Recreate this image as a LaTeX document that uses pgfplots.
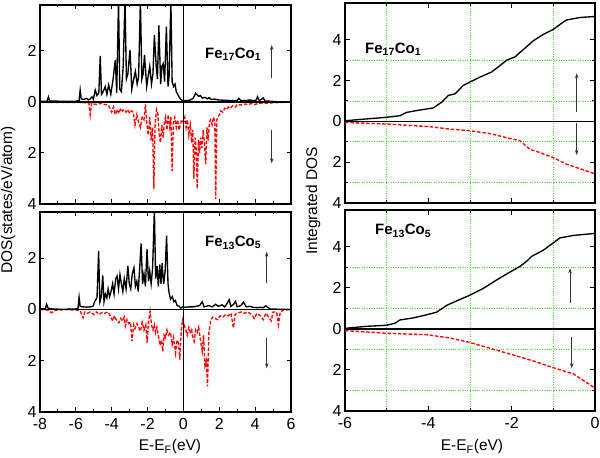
\documentclass[border=0pt]{standalone}
\usepackage{fontspec}
\setmainfont{Liberation Sans}
\usepackage{pgfplots}
\pgfplotsset{compat=1.18}
\usetikzlibrary{arrows.meta}

\definecolor{gridgreen}{RGB}{60,225,40}

\pgfplotsset{
  panel/.style={
    scale only axis,
    axis line style={line width=1.5pt},
    every tick/.style={black, line width=1pt},
    major tick length=4.5pt, minor tick length=2.5pt,
    tick align=inside,
    ticklabel style={font=\fontsize{16}{18}\selectfont},
    xticklabel style={inner sep=0pt, yshift=-6pt},
    /pgf/number format/assume math mode=true,
  },
  dosup/.style={black, line width=1.35pt, mark=none},
  dosdn/.style={red, line width=1.35pt, mark=none, dash pattern=on 3.5pt off 1.8pt},
  leftp/.style={panel, width=251pt, xmin=-8, xmax=6, ymin=-4, ymax=3.8,
    xtick={-8,-6,-4,-2,0,2,4,6}, minor x tick num=1,
    ytick={-4,-2,0,2}, yticklabels={4,2,0,2}},
  rightp/.style={panel, width=250pt, xmin=-6, xmax=0, ymin=-4, ymax=5.8,
    xtick={-6,-4,-2,0}, minor x tick num=1,
    ytick={-4,-2,0,2,4}, yticklabels={4,2,0,2,4}, minor y tick num=1,
    grid=minor, minor grid style={gridgreen, dotted, line width=0.9pt}},
}

\newcommand{\lab}{\fontsize{15.5}{18}\selectfont}
\newcommand{\ann}{\fontsize{15}{18}\selectfont\bfseries}

\begin{document}
\begin{tikzpicture}[x=1pt,y=1pt]
\useasboundingbox (0,0) rectangle (600,458);

% top left: DOS Fe17Co1
\begin{axis}[leftp, at={(40pt,254pt)}, anchor=south west, height=199pt,
  xticklabels={}]
\addplot[dosdn] coordinates {
(-8,-0.02)(-7,-0.02)(-6,-0.02)(-5.5,-0.03)(-5.27,-0.05)(-5.2,-0.5)(-5.13,-0.05)(-5,-0.08)(-4.8,-0.1)(-4.6,-0.05)(-4.4,-0.1)(-4.2,-0.12)(-4.1,-0.25)(-4,-0.4)(-3.9,-0.2)(-3.8,-0.5)(-3.7,-0.3)(-3.6,-0.45)(-3.5,-0.25)(-3.4,-0.35)(-3.3,-0.3)(-3.2,-0.4)(-3.1,-0.3)(-3,-0.45)(-2.9,-0.35)(-2.8,-0.4)(-2.7,-0.9)(-2.6,-0.5)(-2.5,-0.8)(-2.4,-1.0)(-2.3,-0.6)(-2.2,-0.7)(-2.12,-0.1)(-2.05,-0.8)(-1.96,-1.3)(-1.88,-0.6)(-1.8,-1.5)(-1.72,-1.0)(-1.65,-3.4)(-1.58,-0.9)(-1.5,-0.3)(-1.43,-0.45)(-1.36,-1.2)(-1.28,-1.6)(-1.2,-0.9)(-1.13,-1.4)(-1.06,-0.8)(-1,-0.6)(-0.92,-1.1)(-0.85,-0.5)(-0.76,-1.0)(-0.7,-0.6)(-0.63,-2.7)(-0.56,-0.8)(-0.48,-0.6)(-0.4,-1.0)(-0.32,-0.7)(-0.25,-1.1)(-0.17,-0.9)(-0.1,-0.7)(0,-0.8)(0.08,-0.6)(0.15,-1.0)(0.22,-0.7)(0.3,-1.3)(0.38,-0.9)(0.46,-1.6)(0.52,-1.1)(0.58,-3.0)(0.65,-1.4)(0.72,-1.9)(0.77,-3.4)(0.84,-1.5)(0.9,-2.0)(0.96,-1.4)(1.03,-1.8)(1.1,-1.1)(1.17,-1.6)(1.24,-2.45)(1.31,-1.0)(1.38,-1.5)(1.45,-0.8)(1.52,-0.7)(1.6,-0.9)(1.68,-0.6)(1.75,-0.8)(1.8,-3.8)(1.86,-0.7)(1.93,-0.6)(2,-0.5)(2.08,-0.35)(2.2,-0.4)(2.3,-0.25)(2.4,-0.3)(2.5,-0.2)(2.6,-0.25)(2.75,-0.15)(2.9,-0.2)(3,-0.1)(3.2,-0.12)(3.4,-0.08)(3.6,-0.1)(3.8,-0.06)(4,-0.1)(4.2,-0.05)(4.5,-0.06)(5,-0.03)(5.5,-0.02)(6,-0.01)};
\addplot[dosup] coordinates {
(-8,0.02)(-7.6,0.03)(-7.53,0.2)(-7.46,0.04)(-7,0.03)(-6.5,0.02)(-6,0.03)(-5.82,0.05)(-5.76,0.47)(-5.7,0.12)(-5.55,0.1)(-5.4,0.14)(-5.3,0.08)(-5.2,0.12)(-5.1,0.2)(-5.02,0.1)(-4.92,0.47)(-4.82,0.25)(-4.72,0.35)(-4.64,1.8)(-4.57,0.3)(-4.48,0.4)(-4.36,0.6)(-4.27,0.3)(-4.17,0.67)(-4.05,0.3)(-3.93,0.86)(-3.8,1.65)(-3.72,0.35)(-3.62,4)(-3.55,0.5)(-3.46,0.4)(-3.36,1.4)(-3.26,4)(-3.18,0.9)(-3.1,1.1)(-2.98,2.04)(-2.88,0.5)(-2.8,0.8)(-2.68,1.2)(-2.58,0.7)(-2.5,1.0)(-2.4,4)(-2.32,0.9)(-2.25,1.1)(-2.17,1.84)(-2.05,0.6)(-1.97,1.0)(-1.88,1.4)(-1.78,0.7)(-1.7,1.1)(-1.62,2.63)(-1.52,1.4)(-1.45,0.9)(-1.37,3.0)(-1.27,0.7)(-1.2,1.4)(-1.13,1.5)(-1.05,0.8)(-0.95,2.95)(-0.86,0.6)(-0.8,1.0)(-0.7,4)(-0.63,0.8)(-0.55,0.6)(-0.47,0.7)(-0.4,0.4)(-0.32,0.3)(-0.25,0.2)(-0.15,0.1)(-0.05,0.06)(0.2,0.05)(0.4,0.08)(0.55,0.15)(0.68,0.34)(0.77,0.28)(0.85,0.22)(0.95,0.25)(1.05,0.15)(1.2,0.18)(1.35,0.12)(1.43,0.17)(1.55,0.1)(1.75,0.11)(1.95,0.08)(2.2,0.07)(2.5,0.06)(2.8,0.05)(3,0.06)(3.1,0.14)(3.2,0.05)(3.5,0.05)(3.7,0.08)(3.9,0.05)(4.05,0.07)(4.13,0.2)(4.22,0.06)(4.35,0.1)(4.45,0.16)(4.55,0.04)(4.8,0.03)(5.2,0.01)(6,0)};
\draw[line width=1.6pt] (axis cs:-8,0) -- (axis cs:6,0);
\draw[line width=1.4pt] (axis cs:0,-4) -- (axis cs:0,3.8);
\end{axis}

% bottom left: DOS Fe13Co5
\begin{axis}[leftp, at={(40pt,46pt)}, anchor=south west, height=200pt,
  xticklabels={-8,-6,-4,-2,0,2,4,6}]
\addplot[dosdn] coordinates {
(-8,-0.01)(-7.6,-0.02)(-7.35,-0.13)(-7.2,-0.05)(-7,-0.02)(-6.5,-0.01)(-6,-0.02)(-5.75,-0.05)(-5.6,-0.33)(-5.5,-0.1)(-5.35,-0.15)(-5.2,-0.1)(-5,-0.2)(-4.85,-0.1)(-4.7,-0.2)(-4.55,-0.12)(-4.4,-0.15)(-4.2,-0.1)(-4.05,-0.3)(-3.95,-0.45)(-3.85,-0.25)(-3.75,-0.4)(-3.6,-0.52)(-3.5,-0.35)(-3.4,-0.45)(-3.3,-0.3)(-3.24,-0.65)(-3.15,-0.4)(-3.05,-0.55)(-2.95,-0.5)(-2.87,-1.24)(-2.78,-0.6)(-2.7,-0.75)(-2.59,-0.55)(-2.5,-0.7)(-2.4,-0.85)(-2.3,-0.5)(-2.2,-0.8)(-2.1,-0.6)(-2.03,-1.3)(-1.95,-0.5)(-1.86,-0.07)(-1.78,-0.6)(-1.7,-0.8)(-1.62,-0.6)(-1.56,-0.9)(-1.48,-0.7)(-1.38,-1.1)(-1.3,-1.4)(-1.22,-1.2)(-1.15,-1.63)(-1.08,-1.0)(-1,-1.1)(-0.92,-0.8)(-0.83,-1.0)(-0.72,-0.9)(-0.63,-1.37)(-0.55,-1.1)(-0.44,-1.7)(-0.36,-1.2)(-0.28,-1.3)(-0.2,-1.96)(-0.12,-0.8)(-0.05,-0.4)(0.05,-0.6)(0.13,-0.8)(0.21,-1.0)(0.3,-0.7)(0.38,-0.9)(0.46,-0.8)(0.53,-1.1)(0.6,-1.24)(0.68,-0.8)(0.77,-0.9)(0.85,-0.7)(0.95,-1.2)(1.05,-1.63)(1.12,-1.0)(1.2,-2.2)(1.28,-2.0)(1.34,-3.0)(1.42,-0.9)(1.52,-0.46)(1.62,-0.3)(1.75,-0.35)(1.9,-0.4)(2.05,-0.25)(2.2,-0.3)(2.35,-0.2)(2.5,-0.25)(2.65,-0.15)(2.79,-0.72)(2.88,-0.2)(3,-0.15)(3.2,-0.1)(3.4,-0.15)(3.6,-0.1)(3.8,-0.2)(3.95,-0.35)(4.1,-0.15)(4.3,-0.25)(4.45,-0.4)(4.6,-0.15)(4.75,-0.3)(4.9,-0.45)(5,-0.1)(5.2,-0.1)(5.3,-0.6)(5.4,-0.1)(5.6,-0.02)(6,-0.01)};
\addplot[dosup] coordinates {
(-8,0.02)(-7.7,0.03)(-7.63,0.2)(-7.55,0.05)(-7.3,0.02)(-7,0.01)(-6.5,0.01)(-6,0.02)(-5.88,0.04)(-5.82,0.48)(-5.76,0.12)(-5.6,0.1)(-5.4,0.09)(-5.2,0.1)(-5.05,0.12)(-4.92,0.35)(-4.82,0.45)(-4.73,2.27)(-4.66,0.3)(-4.58,0.5)(-4.5,1.33)(-4.43,0.3)(-4.35,0.6)(-4.27,0.45)(-4.2,0.8)(-4.12,0.5)(-4.04,0.7)(-3.95,1.0)(-3.87,0.6)(-3.78,1.2)(-3.7,1.3)(-3.62,0.8)(-3.54,1.36)(-3.46,1.0)(-3.38,0.7)(-3.3,1.2)(-3.2,0.8)(-3.1,1.7)(-3.02,1.0)(-2.94,0.8)(-2.85,1.4)(-2.76,1.63)(-2.68,0.9)(-2.6,1.1)(-2.52,0.7)(-2.45,1.5)(-2.36,2.57)(-2.28,1.0)(-2.2,1.4)(-2.12,0.9)(-2.03,2.35)(-1.95,1.1)(-1.88,1.5)(-1.8,1.0)(-1.72,1.6)(-1.62,3.9)(-1.55,1.2)(-1.47,1.7)(-1.4,0.9)(-1.32,1.76)(-1.25,1.0)(-1.19,1.8)(-1.1,1.0)(-1.02,1.5)(-0.94,2.88)(-0.86,1.0)(-0.8,0.65)(-0.72,0.4)(-0.62,0.5)(-0.53,0.3)(-0.45,0.35)(-0.35,0.15)(-0.25,0.13)(-0.15,0.05)(-0.05,0.1)(0.1,0.08)(0.3,0.1)(0.5,0.1)(0.7,0.12)(0.9,0.15)(1.05,0.3)(1.15,0.1)(1.4,0.15)(1.6,0.1)(1.8,0.2)(1.95,0.12)(2.15,0.18)(2.3,0.1)(2.45,0.25)(2.55,0.38)(2.65,0.12)(2.8,0.2)(2.9,0.32)(3,0.1)(3.2,0.15)(3.35,0.28)(3.5,0.1)(3.7,0.12)(3.9,0.08)(4.1,0.07)(4.3,0.08)(4.45,0.07)(4.6,0.14)(4.72,0.07)(4.85,0.02)(5.2,0.01)(6,0)};
\draw[line width=1.6pt] (axis cs:-8,0) -- (axis cs:6,0);
\draw[line width=1.4pt] (axis cs:0,-4) -- (axis cs:0,3.8);
\end{axis}

% top right: integrated DOS Fe17Co1
\begin{axis}[rightp, at={(345pt,255pt)}, anchor=south west, height=200pt,
  xticklabels={}]
\addplot[dosup] coordinates {
(-6,0.03)(-5.48,0.12)(-5,0.2)(-4.68,0.28)(-4.52,0.44)(-4.28,0.53)(-3.88,0.66)(-3.68,0.94)(-3.52,1.27)(-3.36,1.35)(-3.16,1.76)(-3,1.93)(-2.76,2.17)(-2.48,2.42)(-2.32,2.67)(-2.12,3.0)(-1.92,3.16)(-1.72,3.52)(-1.48,3.95)(-1.24,4.26)(-1,4.51)(-0.8,4.81)(-0.68,4.97)(-0.36,5.09)(0,5.14)};
\addplot[dosdn] coordinates {
(-6,-0.05)(-5,-0.13)(-3.96,-0.26)(-3.48,-0.38)(-3,-0.46)(-2.52,-0.6)(-2.12,-0.8)(-1.8,-0.95)(-1.56,-1.37)(-1.32,-1.53)(-1,-1.78)(-0.68,-2.1)(-0.36,-2.32)(0,-2.57)};
\draw[line width=1.6pt] (axis cs:-6,0) -- (axis cs:0,0);
\end{axis}

% bottom right: integrated DOS Fe13Co5
\begin{axis}[rightp, at={(345pt,47pt)}, anchor=south west, height=201pt,
  xticklabels={-6,-4,-2,0}]
\addplot[dosup] coordinates {
(-6,0.03)(-5.48,0.13)(-5,0.18)(-4.8,0.28)(-4.68,0.44)(-4.36,0.54)(-4.04,0.69)(-3.8,0.82)(-3.56,1.15)(-3.32,1.37)(-3,1.65)(-2.68,1.98)(-2.36,2.39)(-2.12,2.68)(-1.8,3.05)(-1.64,3.3)(-1.52,3.54)(-1.24,3.84)(-1,4.2)(-0.84,4.44)(-0.52,4.56)(0,4.66)};
\addplot[dosdn] coordinates {
(-6,-0.08)(-5,-0.21)(-4.04,-0.28)(-3.48,-0.44)(-3,-0.66)(-2.44,-0.99)(-1.96,-1.27)(-1.48,-1.56)(-1,-1.89)(-0.52,-2.19)(0,-2.88)};
\draw[line width=1.6pt] (axis cs:-6,0) -- (axis cs:0,0);
\end{axis}

% labels
\node[rotate=90, font=\lab] at (8,258) {DOS(states/eV/atom)};
\node[rotate=90, font=\lab] at (313,257) {Integrated DOS};
\node[font=\lab, anchor=base] at (170,7) {E-E\textsubscript{F}(eV)};
\node[font=\lab, anchor=base] at (472,7) {E-E\textsubscript{F}(eV)};

% annotations
\node[anchor=base west, inner sep=0pt, font=\ann] at (205,399.7) {Fe\textsubscript{17}Co\textsubscript{1}};
\node[anchor=base west, inner sep=0pt, font=\ann] at (205,211.3) {Fe\textsubscript{13}Co\textsubscript{5}};
\node[anchor=base west, inner sep=0pt, font=\ann] at (365,404.7) {Fe\textsubscript{17}Co\textsubscript{1}};
\node[anchor=base west, inner sep=0pt, font=\ann] at (375,223) {Fe\textsubscript{13}Co\textsubscript{5}};

\tikzset{spin/.style={line width=1pt, black!80, -{Stealth[length=5pt,width=3.5pt]}}}
\draw[spin] (271.7,380) -- (271.7,413);
\draw[spin] (271.7,328) -- (271.7,294.7);
\draw[spin] (266.7,174.7) -- (266.7,206.3);
\draw[spin] (266.7,119.7) -- (266.7,89.7);
\draw[spin] (576.7,346.3) -- (576.7,384.7);
\draw[spin] (576.7,334.7) -- (576.7,303);
\draw[spin] (570,155.3) -- (570,189.7);
\draw[spin] (571.7,121.3) -- (571.7,89.7);
\end{tikzpicture}
\end{document}
